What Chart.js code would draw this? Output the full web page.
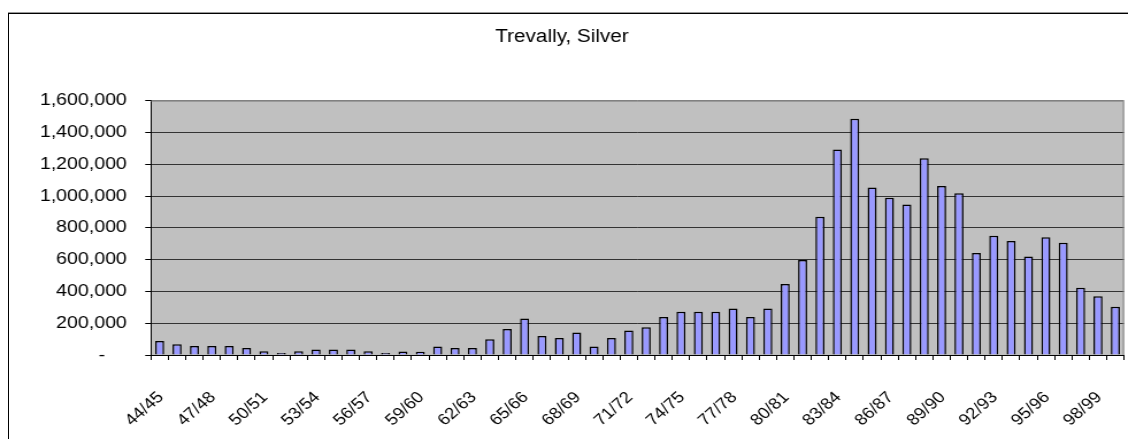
<!DOCTYPE html>
<html>
<head>
<meta charset="utf-8">
<script src="https://cdn.jsdelivr.net/npm/chart.js@4"></script>
<style>
  html, body { margin: 0; padding: 0; background: #fff; overflow: hidden; }
  body { width: 1128px; height: 439px; position: relative; }
  #frame {
    position: absolute; left: 8px; top: 13px; width: 1200px; height: 500px;
    border: 1px solid #000; box-shadow: 0 -1px 0 #999;
  }
  #wrap {
    position: absolute; left: 0; top: 0; width: 981px; height: 439px;
    transform: scaleX(1.1498); transform-origin: 0 0;
  }
</style>
</head>
<body>
<div id="frame"></div>
<div id="wrap"><canvas id="myChart" width="981" height="439"></canvas></div>
<script>
const seasons = [
  "44/45", "45/46", "46/47", "47/48", "48/49", "49/50", "50/51", "51/52",
  "52/53", "53/54", "54/55", "55/56", "56/57", "57/58", "58/59", "59/60",
  "60/61", "61/62", "62/63", "63/64", "64/65", "65/66", "66/67", "67/68",
  "68/69", "69/70", "70/71", "71/72", "72/73", "73/74", "74/75", "75/76",
  "76/77", "77/78", "78/79", "79/80", "80/81", "81/82", "82/83", "83/84",
  "84/85", "85/86", "86/87", "87/88", "88/89", "89/90", "90/91", "91/92",
  "92/93", "93/94", "94/95", "95/96", "96/97", "97/98", "98/99", "99/00"
];

const catchKg = [
  88000, 67000, 57000, 57000, 57000, 44000, 23000, 13000,
  23000, 34000, 34000, 34000, 23000, 13000, 22000, 21000,
  53000, 44000, 44000, 99000, 164000, 229000, 120000, 107000,
  141000, 53000, 107000, 154000, 175000, 239000, 272000, 272000,
  272000, 293000, 239000, 293000, 446000, 597000, 870000, 1293000,
  1486000, 1054000, 989000, 947000, 1237000, 1063000, 1018000, 641000,
  750000, 717000, 620000, 740000, 706000, 423000, 369000, 304000
];

const chartTitle = "Trevally, Silver";
const yMax = 1600000;
const yStep = 200000;
const labelEvery = 3;

const ctx = document.getElementById("myChart");

// grey plot background plus grey frame on top/right
const plotArea = {
  id: "plotArea",
  beforeDraw(chart) {
    const { ctx, chartArea: a } = chart;
    ctx.save();
    ctx.fillStyle = "#c0c0c0";
    ctx.fillRect(a.left, a.top, a.right - a.left, a.bottom - a.top);
    ctx.restore();
  },
  afterDraw(chart) {
    const { ctx, chartArea: a } = chart;
    ctx.save();
    ctx.strokeStyle = "#808080";
    ctx.lineWidth = 1;
    ctx.beginPath();
    ctx.moveTo(a.left, a.top + 0.5);
    ctx.lineTo(a.right - 0.5, a.top + 0.5);
    ctx.lineTo(a.right - 0.5, a.bottom);
    ctx.stroke();
    ctx.restore();
  }
};

new Chart(ctx, {
  type: "bar",
  data: {
    labels: seasons,
    datasets: [
      {
        label: chartTitle,
        data: catchKg,
        backgroundColor: "#9999ff",
        borderColor: "#000000",
        borderWidth: 1.5,
        barPercentage: 0.52,
        categoryPercentage: 1,
      },
    ],
  },
  options: {
    responsive: false,
    animation: false,
    devicePixelRatio: 1,
    layout: { padding: { left: 0, right: 3.4, top: 26, bottom: 0 } },
    plugins: {
      legend: { display: false },
      tooltip: { enabled: false },
      title: {
        display: true,
        text: chartTitle,
        color: "#000",
        font: { family: "Liberation Sans, Arial, sans-serif", size: 18, weight: "normal" },
        padding: { top: 0, bottom: 53 },
      },
    },
    scales: {
      x: {
        offset: true,
        grid: {
          offset: true,
          drawOnChartArea: false,
          drawTicks: true,
          tickLength: 5,
          tickColor: "#000",
        },
        border: { display: true, color: "#000", width: 1 },
        ticks: {
          autoSkip: false,
          maxRotation: 45,
          minRotation: 45,
          padding: 28,
          labelOffset: 1,
          color: "#000",
          font: { family: "Liberation Sans, Arial, sans-serif", size: 16 },
          callback: (value, index) => (index % labelEvery === 0 ? seasons[index] : ""),
        },
        afterFit(scale) {
          scale.height = 84;
          scale.paddingLeft = 0;
          scale.paddingRight = 0;
        },
      },
      y: {
        min: 0,
        max: yMax,
        grid: {
          color: (c) => (c.tick && c.tick.value === yMax ? "#808080" : "#333333"),
          tickColor: "#000",
          tickLength: 5,
          lineWidth: 1,
        },
        border: { display: true, color: "#000", width: 1 },
        ticks: {
          stepSize: yStep,
          padding: 16,
          color: "#000",
          font: { family: "Liberation Sans, Arial, sans-serif", size: 17 },
          callback: (v) => (v === 0 ? "-    " : v.toLocaleString("en-US")),
        },
        afterFit(scale) { scale.width = 131.3; },
      },
    },
  },
  plugins: [plotArea],
});
</script>
</body>
</html>
